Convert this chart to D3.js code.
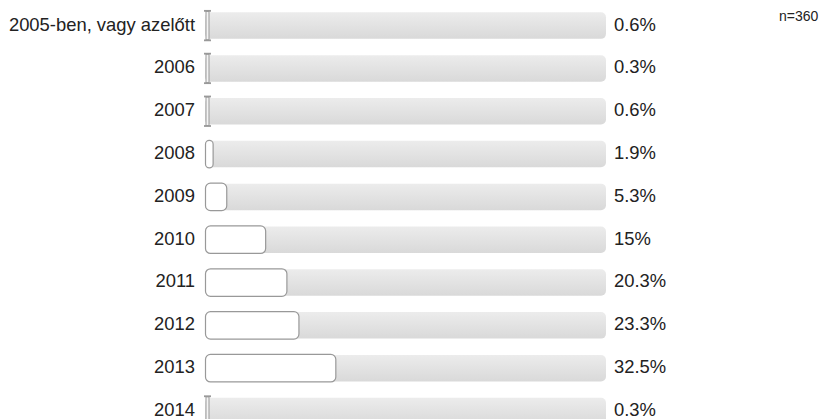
<!DOCTYPE html>
<html>
<head>
<meta charset="utf-8">
<script src="https://cdn.jsdelivr.net/npm/d3@7"></script>
<style>
  body { margin: 0; background: #fff; }
  text { font-family: "Liberation Sans", Arial, sans-serif; fill: #222; }
</style>
</head>
<body>
<div class="chart"></div>
<script>
const categories = ['2005-ben, vagy azelőtt', '2006', '2007', '2008', '2009', '2010', '2011', '2012', '2013', '2014']
const values = [0.6, 0.3, 0.6, 1.9, 5.3, 15, 20.3, 23.3, 32.5, 0.3]
const valueLabels = ['0.6%', '0.3%', '0.6%', '1.9%', '5.3%', '15%', '20.3%', '23.3%', '32.5%', '0.3%']
const sampleLabel = 'n=360'

const width = 826
const height = 419
const barH = 26.5

const data = categories.map((c, i) => ({cat: c, value: values[i], label: valueLabels[i]}))

const svg = d3.select('.chart').append('svg')
    .attr('width', width)
    .attr('height', height)

const defs = svg.append('defs')
const grad = defs.append('linearGradient')
    .attr('id', 'track')
    .attr('x1', 0).attr('y1', 0).attr('x2', 0).attr('y2', 1)
grad.append('stop').attr('offset', '0%').attr('stop-color', '#ececec')
grad.append('stop').attr('offset', '100%').attr('stop-color', '#d9d9d9')

let x = d3.scaleLinear()
    .domain([0, 100])
    .range([205, 606])

let y = d3.scalePoint()
    .domain(categories)
    .range([25.6, 411])

const rows = svg.selectAll('.row')
    .data(data)
    .join('g')
    .attr('class', 'row')
    .attr('transform', d => `translate(0, ${y(d.cat)})`)

// background track
rows.append('rect')
    .attr('x', x(0))
    .attr('y', -barH / 2)
    .attr('width', x(100) - x(0))
    .attr('height', barH)
    .attr('rx', 5)
    .attr('fill', 'url(#track)')

// value bars
rows.each(function(d) {
    const g = d3.select(this)
    const w = x(d.value) - x(0)
    if (w < 4) {
        // tiny values are drawn as an I-beam
        const cx = x(0) + 2.5
        g.append('rect')
            .attr('x', cx - 1.5)
            .attr('y', -barH / 2 - 1)
            .attr('width', 3)
            .attr('height', barH + 2)
            .attr('fill', '#f4f4f4')
            .attr('stroke', '#999')
            .attr('stroke-width', 1)
        g.append('line')
            .attr('x1', cx - 3.5).attr('x2', cx + 3.5)
            .attr('y1', -barH / 2 - 1.5).attr('y2', -barH / 2 - 1.5)
            .attr('stroke', '#999').attr('stroke-width', 1.8)
        g.append('line')
            .attr('x1', cx - 3.5).attr('x2', cx + 3.5)
            .attr('y1', barH / 2 + 1.5).attr('y2', barH / 2 + 1.5)
            .attr('stroke', '#999').attr('stroke-width', 1.8)
    } else {
        g.append('rect')
            .attr('x', x(0) + 0.5)
            .attr('y', -barH / 2 - 0.5)
            .attr('width', w)
            .attr('height', barH + 1)
            .attr('rx', Math.min(5, w / 2))
            .attr('fill', '#fff')
            .attr('stroke', '#999')
            .attr('stroke-width', 1.2)
    }
})

rows.append('text')
    .attr('x', 195)
    .attr('y', -1.5)
    .attr('dy', '0.35em')
    .attr('text-anchor', 'end')
    .style('font-size', '18.4px')
    .text(d => d.cat)

rows.append('text')
    .attr('x', 614)
    .attr('y', -1.5)
    .attr('dy', '0.35em')
    .style('font-size', '18.4px')
    .text(d => d.label)

svg.append('text')
    .attr('x', 779)
    .attr('y', 21)
    .style('font-size', '14px')
    .text(sampleLabel)
</script>
</body>
</html>
